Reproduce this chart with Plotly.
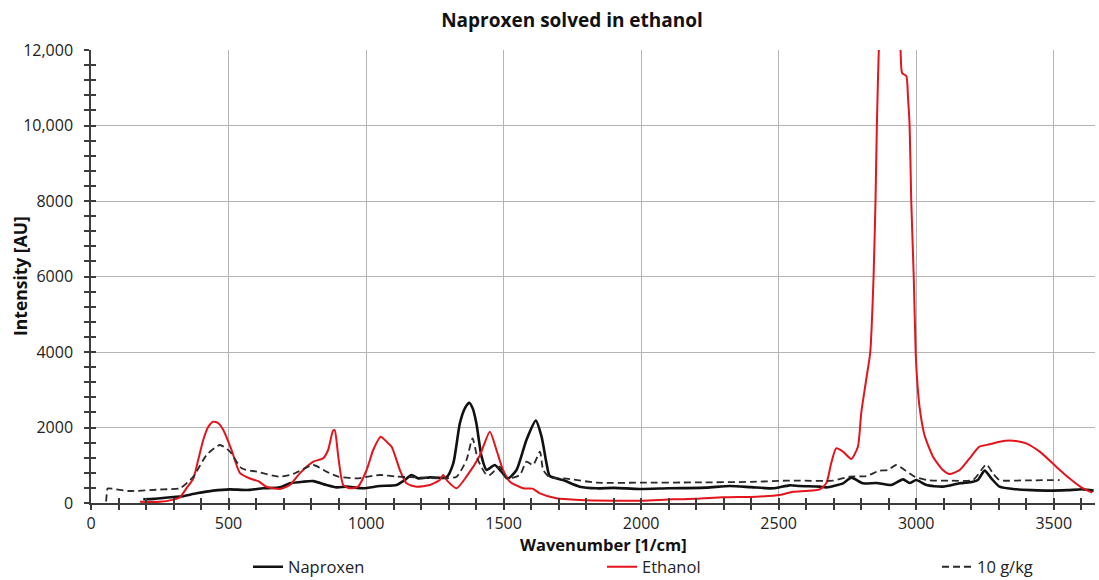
import plotly.graph_objects as go

# Raman spectra: wavenumber [1/cm] vs. intensity [AU]
naproxen_x = [190, 230, 300, 323, 384, 444, 505, 566, 626, 687, 723, 771, 808, 856, 893,
              929, 990, 1050, 1111, 1141, 1165, 1189, 1232, 1292, 1317, 1341, 1360, 1375,
              1388, 1401, 1420, 1438, 1468, 1492, 1516, 1547, 1583, 1617, 1638, 1656, 1668,
              1716, 1777, 1838, 1900, 1995, 2100, 2237, 2322, 2400, 2478, 2540, 2576, 2649,
              2673, 2734, 2764, 2806, 2855, 2909, 2952, 2976, 3000, 3037, 3097, 3158, 3206,
              3224, 3249, 3273, 3303, 3364, 3420, 3485, 3550, 3606, 3645]
naproxen_y = [100, 110, 160, 168, 256, 327, 362, 344, 389, 415, 521, 565, 580, 477, 415,
              433, 389, 450, 477, 609, 742, 653, 680, 680, 1051, 2111, 2520, 2657,
              2500, 2111, 1227, 874, 1006, 830, 653, 874, 1669, 2181, 1757, 1051, 715,
              609, 433, 389, 400, 371, 390, 406, 450, 420, 389, 468, 450, 433,
              415, 521, 671, 521, 530, 477, 627, 530, 609, 477, 433, 521, 565,
              609, 857, 653, 433, 362, 340, 327, 340, 362, 327]

ethanol_x = [178, 250, 299, 323, 348, 372, 390, 408, 425, 444, 462, 481, 511, 541, 578,
             608, 638, 687, 723, 759, 808, 844, 862, 880, 886, 899, 917, 941, 971, 1002,
             1026, 1053, 1075, 1093, 1123, 1147, 1183, 1232, 1268, 1280, 1298, 1329, 1365,
             1413, 1450, 1474, 1498, 1523, 1571, 1605, 1632, 1692, 1777, 1900, 2000, 2116,
             2200, 2298, 2419, 2504, 2552, 2600, 2649, 2673, 2691, 2709, 2734, 2764, 2788,
             2800, 2818, 2833, 2845, 2852, 2857, 2864, 2880, 2900, 2925, 2943, 2949, 2964,
             2970, 2976, 2982, 2991, 2998, 3003, 3012, 3030, 3061, 3097, 3121, 3158, 3194,
             3230, 3267, 3303, 3351, 3400, 3449, 3509, 3557, 3600, 3640]
ethanol_y = [30, 30, 90, 150, 400, 650, 1150, 1669, 2000, 2154, 2120, 1934, 1404, 800, 650,
             580, 430, 370, 477, 786, 1095, 1183, 1404, 1916, 1930, 1227, 477, 389, 433, 874,
             1404, 1757, 1620, 1492, 874, 521, 433, 477, 609, 742, 565, 389, 698,
             1250, 1890, 1404, 874, 565, 389, 380, 256, 124, 79, 60, 60, 97,
             110, 150, 168, 212, 300, 320, 362, 521, 1051, 1448, 1360, 1166, 1492,
             2376, 3258, 4000, 6000, 8000, 10000, 12000, 14500, 15800, 15000, 12000, 11382, 11311,
             10763, 10000, 8000, 6000, 4000, 3303, 2551, 1801, 1227, 874, 768, 874, 1183,
             1492, 1554, 1625, 1651, 1581, 1360, 962, 653, 415, 274]

mix_x = [55, 60, 63, 142, 263, 323, 372, 420, 469, 505, 548, 602, 687, 735, 808, 856, 899,
         965, 1050, 1111, 1183, 1292, 1329, 1365, 1387, 1407, 1438, 1450, 1486, 1510, 1559,
         1583, 1607, 1632, 1644, 1668, 1729, 1838, 2000, 2200, 2400, 2528, 2576, 2697, 2758,
         2818, 2867, 2897, 2927, 2958, 2994, 3037, 3121, 3206, 3237, 3255, 3279, 3303, 3400,
         3521]
mix_y = [40, 380, 389, 318, 362, 389, 698, 1271, 1536, 1360, 918, 830, 698, 768, 1006, 830,
         698, 653, 742, 698, 680, 653, 698, 1139, 1713, 1139, 742, 742, 962, 653, 742,
         1095, 1006, 1360, 874, 680, 645, 539, 540, 545, 560, 592, 592, 592, 698,
         715, 857, 874, 1006, 874, 698, 609, 592, 609, 874, 1024, 786, 609, 600,
         609]

x_tick_vals = [0, 500, 1000, 1500, 2000, 2500, 3000, 3500]
y_tick_vals = [0, 2000, 4000, 6000, 8000, 10000, 12000]
y_tick_text = ["0", "2000", "4000", "6000", "8000", "10,000", "12,000"]

FONT = "Open Sans"
AXIS_COLOR = "#3c3c3c"
GRID_COLOR = "#b4b4b4"
X_RANGE = [0, 3650]
Y_RANGE = [0, 12000]

fig = go.Figure()
fig.add_trace(go.Scatter(x=naproxen_x, y=naproxen_y, mode="lines", name="Naproxen",
                         line=dict(color="#111111", width=2.6, shape="spline", smoothing=0.6),
                         legend="legend"))
fig.add_trace(go.Scatter(x=ethanol_x, y=ethanol_y, mode="lines", name="Ethanol",
                         line=dict(color="#e3141b", width=2, shape="spline", smoothing=0.6),
                         legend="legend2"))
fig.add_trace(go.Scatter(x=mix_x, y=mix_y, mode="lines", name="10 g/kg",
                         line=dict(color="#2a2a2a", width=1.8, dash="7px,4px",
                                   shape="spline", smoothing=0.6),
                         legend="legend3"))
# empty trace so the overlay axes (inner half of the crossing ticks) get drawn
fig.add_trace(go.Scatter(x=[], y=[], xaxis="x2", yaxis="y2", showlegend=False,
                         hoverinfo="skip"))

tick_common = dict(ticklen=5, tickwidth=1.5, tickcolor=AXIS_COLOR)

legend_common = dict(orientation="h", xref="container", yref="container",
                     yanchor="middle", xanchor="left", bgcolor="rgba(0,0,0,0)",
                     font=dict(family=FONT, size=16.5, color="#222"))

fig.update_layout(
    width=1099, height=580,
    margin=dict(l=91, r=4, t=50, b=77),
    paper_bgcolor="white", plot_bgcolor="white",
    showlegend=True,
    font=dict(family=FONT, size=16, color="#333"),
    title=dict(text="<b>Naproxen solved in ethanol</b>", x=572 / 1099, xanchor="center",
               y=1 - 20 / 580, yanchor="middle",
               font=dict(family=FONT, size=19, color="#111")),
    xaxis=dict(range=X_RANGE, tickmode="array", tickvals=x_tick_vals, ticks="outside",
               **tick_common, showline=True, linecolor=AXIS_COLOR, linewidth=1.5,
               showgrid=True, gridcolor=GRID_COLOR, gridwidth=1, zeroline=False,
               automargin=False,
               minor=dict(tickmode="linear", tick0=0, dtick=100, ticks="outside",
                          showgrid=False, **tick_common),
               tickfont=dict(size=16, color="#222"), ticklabelstandoff=0),
    yaxis=dict(range=Y_RANGE, tickmode="array", tickvals=y_tick_vals, ticktext=y_tick_text,
               ticks="outside", **tick_common, showline=True, linecolor=AXIS_COLOR,
               linewidth=1.5, showgrid=True, gridcolor=GRID_COLOR, gridwidth=1,
               zeroline=False, automargin=False,
               minor=dict(tickmode="linear", tick0=0, dtick=400, ticks="outside",
                          showgrid=False, **tick_common),
               tickfont=dict(size=16, color="#222"), ticklabelstandoff=8),
    xaxis2=dict(range=X_RANGE, overlaying="x", anchor="y2", side="bottom",
                tickmode="array", tickvals=x_tick_vals, ticks="inside", **tick_common,
                showticklabels=False, showgrid=False, showline=False, zeroline=False,
                minor=dict(tickmode="linear", tick0=0, dtick=100, ticks="inside",
                           showgrid=False, **tick_common)),
    yaxis2=dict(range=Y_RANGE, overlaying="y", anchor="x2", side="left",
                tickmode="array", tickvals=y_tick_vals, ticks="inside", **tick_common,
                showticklabels=False, showgrid=False, showline=False, zeroline=False,
                minor=dict(tickmode="linear", tick0=0, dtick=400, ticks="inside",
                           showgrid=False, **tick_common)),
    legend=dict(x=248 / 1099, y=1 - 567 / 580, **legend_common),
    legend2=dict(x=602 / 1099, y=1 - 567 / 580, **legend_common),
    legend3=dict(x=937 / 1099, y=1 - 567 / 580, **legend_common),
)

# axis titles, positioned in paper coordinates of the plot area
fig.add_annotation(text="<b>Intensity [AU]</b>", textangle=-90, xref="paper", yref="paper",
                   x=(20 - 91) / 1004, y=(503 - 276) / 453, xanchor="center",
                   yanchor="middle", showarrow=False,
                   font=dict(family=FONT, size=17.5, color="#111"))
fig.add_annotation(text="<b>Wavenumber [1/cm]</b>", xref="paper", yref="paper",
                   x=(603 - 91) / 1004, y=(503 - 544) / 453, xanchor="center",
                   yanchor="middle", showarrow=False,
                   font=dict(family=FONT, size=16.5, color="#111"))

fig.write_html("out.html")
